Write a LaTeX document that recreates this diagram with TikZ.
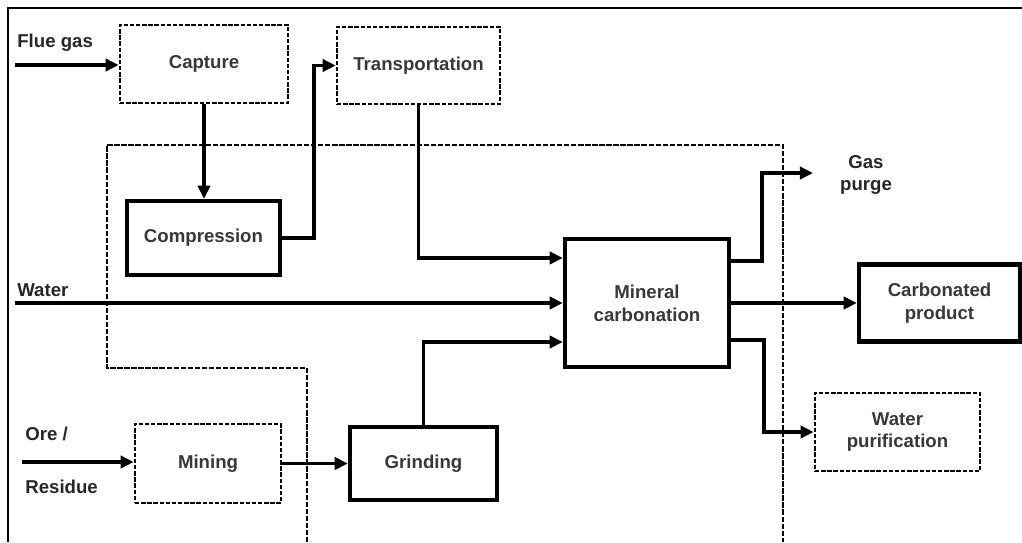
\documentclass[tikz,border=0pt]{standalone}
\usepackage{fontspec}
\setmainfont{Liberation Sans}
\usetikzlibrary{positioning,arrows.meta,calc}

\begin{document}
\begin{tikzpicture}[
        x=0.02cm, y=-0.02cm,
        font=\fontsize{10.6}{13}\selectfont\bfseries,
        sz/.style 2 args={minimum width=#1*0.02cm, minimum height=#2*0.02cm},
        procbox/.style={rectangle, draw, line width=2.5pt, align=center, text=black!78, inner sep=0pt},
        dashbox/.style={rectangle, draw, dash pattern=on 2.5pt off 1pt, line width=1.5pt, align=center, text=black!78, inner sep=0pt},
        lbl/.style={anchor=west, inner sep=0pt, text=black!85},
        arrow/.style={-{Triangle[length=7.5pt,width=7pt]}, line width=2.1pt},
        zone/.style={dash pattern=on 3pt off 1pt, line width=1.1pt}
    ]
        \useasboundingbox (0,0) rectangle (1022,542);

        % frame and capture zone
        \draw[line width=0.8pt] (8,542) -- (8,8) -- (1022,8);
        \draw[zone] (307,542) -- (307,368) -- (107,368) -- (107,145) -- (783,145) -- (783,542);

        % process boxes
        \node[dashbox, sz={168}{78}] (cap) at (204,64) {Capture};
        \node[dashbox, sz={163}{77}] (trans) at (418.5,65.5) {Transportation};
        \node[procbox, sz={153}{74}] (comp) at (203.5,238) {Compression};
        \node[procbox, sz={164}{128}] (mc) at (647,303) {Mineral\\carbonation};
        \node[dashbox, sz={146}{79}] (mining) at (208,463.5) {Mining};
        \node[procbox, sz={147}{73}] (grind) at (423.5,463.5) {Grinding};
        \node[procbox, sz={161}{77}] (carb) at (939.5,303) {Carbonated\\product};
        \node[dashbox, sz={165}{78}] (wpur) at (897.5,432) {Water\\purification};

        % labels
        \node[lbl] (flue) at (17,43) {Flue gas};
        \node[lbl] (water) at (17,290) {Water};
        \node[lbl] (ore) at (25,434) {Ore /};
        \node[lbl] (residue) at (25,487) {Residue};
        \node[align=center, inner sep=0pt, text=black!85] (gas) at (866,175) {Gas\\purge};

        % free ends
        \coordinate (fluein) at (15,65);
        \coordinate (waterin) at (15,303);
        \coordinate (orein) at (22,462);
        \coordinate (gasout) at (813,173);

        % connectors
        \draw[arrow] (fluein) -- (fluein -| cap.west);
        \draw[arrow] (cap.south) -- (cap.south |- comp.north);
        \draw[arrow] (comp.east) -- ++(32,0) |- (trans.west);
        \draw[arrow] (trans.south) |- ($(mc.west)+(0,-45)$);
        \draw[arrow] (waterin) -- (mc.west);
        \draw[arrow] (grind.north) |- ($(mc.west)+(0,39)$);
        \draw[arrow] (orein) -- (orein -| mining.west);
        \draw[arrow] (mining.east) -- (grind.west);
        \draw[arrow] ($(mc.east)+(0,-42)$) -- ++(31,0) |- (gasout);
        \draw[arrow] (mc.east) -- (carb.west);
        \draw[arrow] ($(mc.east)+(0,37)$) -- ++(33,0) |- (wpur.west);
    \end{tikzpicture}
\end{document}
